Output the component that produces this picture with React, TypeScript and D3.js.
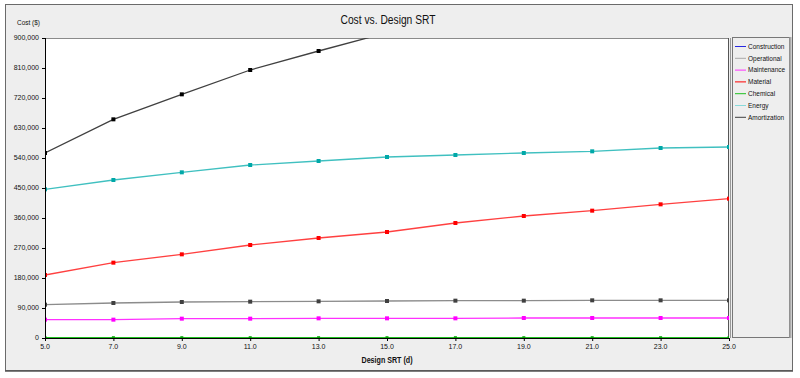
import React from "react";
import * as d3 from "d3";

const xValues = [5, 7, 9, 11, 13, 15, 17, 19, 21, 23, 25];
const yTicks = [0, 90000, 180000, 270000, 360000, 450000, 540000, 630000, 720000, 810000, 900000];

// Construction lies entirely above the visible range (clipped)
const construction = [1250000, 1380000, 1490000, 1590000, 1680000, 1760000, 1840000, 1910000, 1980000, 2040000, 2100000];
const operational = [100000, 105000, 108000, 109000, 110000, 111000, 112000, 112000, 113000, 113000, 113000];
const maintenance = [55000, 55000, 58000, 58000, 59000, 59000, 59000, 60000, 60000, 60000, 60000];
const material = [189000, 226000, 251000, 279000, 300000, 318000, 345000, 366000, 382000, 401000, 418000];
const chemical = [800, 800, 800, 800, 800, 800, 800, 800, 800, 800, 800];
const energy = [446000, 474000, 497000, 519000, 531000, 543000, 549000, 555000, 560000, 570000, 573000];
const amortization = [555000, 656000, 731000, 804000, 861000, 916000, 968000, 1018000, 1065000, 1110000, 1155000];

const seriesNames = ["Construction", "Operational", "Maintenance", "Material", "Chemical", "Energy", "Amortization"];
const seriesData = [construction, operational, maintenance, material, chemical, energy, amortization];
const legendColors = ["#2828e0", "#a8a8a8", "#ff30ff", "#ff0000", "#20c020", "#88dada", "#404040"];
const lineColors = ["#2828e0", "#8c8c8c", "#ff30ff", "#ff4040", "#20c020", "#40c0c0", "#404040"];
const markerColors = ["#1818c0", "#404040", "#ff00ff", "#ff0000", "#00a000", "#00a8a8", "#000000"];

export default function App() {
  const W = 800, H = 378;
  const left = 45, right = 729, top = 38, bottom = 338;
  const x = d3.scaleLinear().domain([5, 25]).range([left, right]);
  const y = d3.scaleLinear().domain([0, 900000]).range([bottom, top]);
  const fmt = d3.format(",");
  const line = d3.line<number>().x((_, i) => x(xValues[i])).y((d) => y(d));
  const drawOrder = [6, 5, 3, 1, 2, 4, 0];

  return (
    <svg width={W} height={H} style={{ position: "absolute", left: 0, top: 0 }} fontFamily="'Liberation Sans', Arial, sans-serif">
      <rect x={0} y={0} width={W} height={H} fill="#ffffff" />
      <rect x={5.5} y={4.5} width={787} height={366} fill="#eeeeee" stroke="#6a6a6a" strokeWidth={1} />
      <line x1={5} x2={793} y1={371} y2={371} stroke="#555" strokeWidth={1.5} />
      <text x={388} y={24} textAnchor="middle" fontSize={12.5} textLength={95} lengthAdjust="spacingAndGlyphs" fill="#111">Cost vs. Design SRT</text>
      <text x={17} y={25} fontSize={7} textLength={23} lengthAdjust="spacingAndGlyphs" fill="#111">Cost ($)</text>

      <defs>
        <clipPath id="plotClip">
          <rect x={left} y={top} width={right - left} height={bottom - top} />
        </clipPath>
      </defs>
      <rect x={left} y={top} width={right - left} height={bottom - top} fill="#ffffff" />
      <line x1={left} x2={right} y1={top + 0.5} y2={top + 0.5} stroke="#8a8a8a" />
      <line x1={right - 0.5} x2={right - 0.5} y1={top} y2={bottom} stroke="#555" />
      <line x1={right + 1.5} x2={right + 1.5} y1={top} y2={bottom} stroke="#999" />

      <g clipPath="url(#plotClip)">
        {drawOrder.map((si) => (
          <g key={seriesNames[si]}>
            <path d={line(seriesData[si]) || ""} fill="none" stroke={lineColors[si]} strokeWidth={1.3} />
            {seriesData[si].map((v, i) => {
              const s = si === 4 ? 3 : 4;
              return <rect key={i} x={x(xValues[i]) - s / 2} y={y(v) - s / 2} width={s} height={s} fill={markerColors[si]} />;
            })}
          </g>
        ))}
      </g>

      {/* axes */}
      <line x1={left + 0.5} x2={left + 0.5} y1={top} y2={bottom} stroke="#000" />
      <line x1={left} x2={right} y1={bottom + 0.5} y2={bottom + 0.5} stroke="#000" />
      {yTicks.map((t) => (
        <g key={t}>
          <line x1={left - 3} x2={left} y1={y(t) + 0.5} y2={y(t) + 0.5} stroke="#000" />
          <text x={39} y={y(t)} dy="0.35em" textAnchor="end" fontSize={7} fill="#111">{fmt(t)}</text>
        </g>
      ))}
      {xValues.map((t) => (
        <g key={t}>
          <line x1={x(t) + 0.5} x2={x(t) + 0.5} y1={bottom} y2={bottom + 3} stroke="#000" />
          <text x={x(t)} y={349} textAnchor="middle" fontSize={7} fill="#111">{t.toFixed(1)}</text>
        </g>
      ))}
      <text x={387} y={363} textAnchor="middle" fontSize={9} fontWeight="bold" textLength={51} lengthAdjust="spacingAndGlyphs" fill="#111">Design SRT (d)</text>

      {/* legend */}
      <rect x={732.5} y={37.5} width={57} height={300} fill="#eeeeee" stroke="#777" />
      <line x1={790.5} x2={790.5} y1={37} y2={338} stroke="#aaa" strokeWidth={2} />
      {seriesNames.map((n, i) => (
        <g key={n}>
          <line x1={735} x2={746} y1={46.5 + i * 11.8} y2={46.5 + i * 11.8} stroke={legendColors[i]} strokeWidth={1} />
          <text x={748} y={46.5 + i * 11.8} dy="0.35em" fontSize={6.5} fill="#111">{n}</text>
        </g>
      ))}
    </svg>
  );
}
